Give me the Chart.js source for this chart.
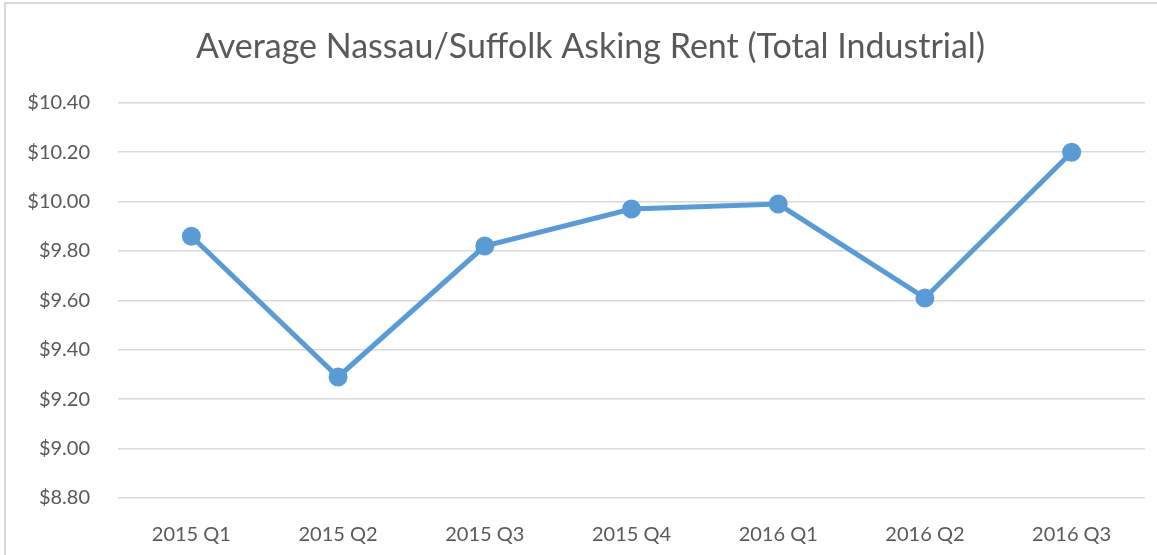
<!DOCTYPE html>
<html>
<head>
<meta charset="utf-8">
<script src="https://cdn.jsdelivr.net/npm/chart.js@4"></script>
<style>
  html, body { margin: 0; padding: 0; background: #fff; }
  #frame { position: absolute; left: 4px; top: 2px; width: 1200px; height: 600px; border-left: 2px solid #d9d9d9; border-top: 2px solid #d9d9d9; }
  #wrap { position: absolute; left: 0; top: 0; width: 1157px; height: 555px; }
</style>
</head>
<body>
<div id="frame"></div>
<div id="wrap"><canvas id="chart" width="1157" height="555"></canvas></div>
<script>
// quarters and asking rent ($/sq ft)
const quarters = ['2015 Q1', '2015 Q2', '2015 Q3', '2015 Q4', '2016 Q1', '2016 Q2', '2016 Q3'];
const askingRent = [9.86, 9.29, 9.82, 9.97, 9.99, 9.61, 10.20];
const yMin = 8.8;
const yMax = 10.4;
const yStep = 0.2;

const textColor = '#595959';
const font = 'Lato, "Open Sans", sans-serif';

// nudge the title box so its centre sits a bit right, like the original
const titleShift = {
  id: 'titleShift',
  afterLayout(chart) {
    if (chart.titleBlock) chart.titleBlock.left = 36;
  }
};

new Chart(document.getElementById('chart'), {
  type: 'line',
  data: {
    labels: quarters,
    datasets: [{
      data: askingRent,
      borderColor: '#5b9bd5',
      backgroundColor: '#5b9bd5',
      borderWidth: 5,
      pointRadius: 7,
      pointHoverRadius: 7,
      tension: 0
    }]
  },
  options: {
    responsive: false,
    animation: false,
    layout: { padding: { left: 0, right: 12, top: 0, bottom: 0 } },
    plugins: {
      legend: { display: false },
      tooltip: { enabled: false },
      title: {
        display: true,
        text: 'Average Nassau/Suffolk Asking Rent (Total Industrial)',
        color: textColor,
        font: { family: font, size: 34, weight: 'normal' },
        padding: { top: 27, bottom: 35 }
      }
    },
    scales: {
      x: {
        offset: true,
        grid: { display: false },
        border: { display: false },
        ticks: { color: textColor, font: { family: font, size: 20 }, padding: 17, maxRotation: 0 },
        afterFit: (s) => { s.height = 57; }
      },
      y: {
        min: yMin,
        max: yMax,
        grid: { color: '#d9d9d9', lineWidth: 1.5, drawTicks: false },
        border: { display: false },
        ticks: {
          stepSize: yStep,
          color: textColor,
          font: { family: font, size: 20 },
          padding: 28,
          callback: (v) => '$' + Number(v).toFixed(2)
        },
        afterFit: (s) => { s.width = 118; }
      }
    }
  },
  plugins: [titleShift]
});
</script>
</body>
</html>
